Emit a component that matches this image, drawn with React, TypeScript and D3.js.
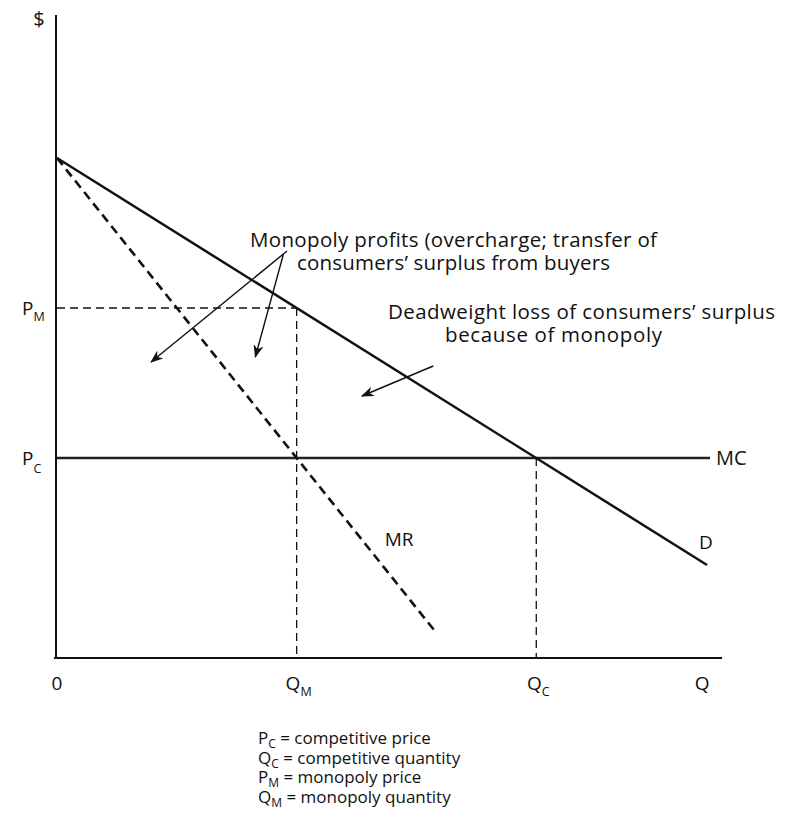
import React from "react";
import * as d3 from "d3";

const W = 787;
const H = 822;

// Economic model values (quantity, price)
const demandPoints = [
  { q: 0, p: 10 },
  { q: 10.85, p: 1.86 },
];
const mrPoints = [
  { q: 0, p: 10 },
  { q: 6.3, p: 0.55 },
];
const mcPoints = [
  { q: 0, p: 4 },
  { q: 10.9, p: 4 },
];
const qMonopoly = 4;
const qCompetitive = 8;
const pMonopoly = 7;
const pCompetitive = 4;
const qAxisMax = 11.1;
const pAxisMax = 12.86;

const xTickLabels = [
  { q: 0, main: "0", sub: "" },
  { q: qMonopoly, main: "Q", sub: "M" },
  { q: qCompetitive, main: "Q", sub: "C" },
  { q: 10.77, main: "Q", sub: "" },
];
const yTickLabels = [
  { p: pMonopoly, main: "P", sub: "M" },
  { p: pCompetitive, main: "P", sub: "C" },
];

const arrows = [
  { from: { q: 3.84, p: 8.14 }, to: { q: 1.57, p: 5.92 } },
  { from: { q: 3.78, p: 8.08 }, to: { q: 3.31, p: 6.02 } },
  { from: { q: 6.28, p: 5.84 }, to: { q: 5.09, p: 5.24 } },
];

const annotationLines = [
  { text: "Monopoly profits (overcharge; transfer of", x0: 250, x1: 657, y: 247 },
  { text: "consumers’ surplus from buyers", x0: 297, x1: 610, y: 270 },
  { text: "Deadweight loss of consumers’ surplus", x0: 388, x1: 775, y: 319 },
  { text: "because of monopoly", x0: 445, x1: 662, y: 342 },
];

const legendLines = [
  { main: "P", sub: "C", text: " = competitive price" },
  { main: "Q", sub: "C", text: " = competitive quantity" },
  { main: "P", sub: "M", text: " = monopoly price" },
  { main: "Q", sub: "M", text: " = monopoly quantity" },
];

const FONT = "'Open Sans', 'Noto Sans', sans-serif";

export default function App() {
  const x = d3.scaleLinear().domain([0, qAxisMax]).range([57, 722]);
  const y = d3.scaleLinear().domain([0, 13]).range([658, 8]);
  const line = d3
    .line<{ q: number; p: number }>()
    .x((d) => x(d.q))
    .y((d) => y(d.p));

  const sub = (
    main: string,
    s: string,
    px: number,
    py: number,
    size: number,
    anchor = "start",
    drop = 0.3
  ) => (
    <text x={px} y={py} fontSize={size} fontFamily={FONT} textAnchor={anchor} fill="#111">
      {main}
      {s ? (
        <tspan fontSize={size * 0.66} dy={size * drop}>
          {s}
        </tspan>
      ) : null}
    </text>
  );

  return (
    <svg
      width={W}
      height={H}
      style={{ position: "absolute", left: 0, top: 0, background: "#fff" }}
    >
      <defs>
        <marker
          id="ah"
          viewBox="0 0 13 10"
          refX="12"
          refY="5"
          markerWidth="13"
          markerHeight="10"
          markerUnits="userSpaceOnUse"
          orient="auto"
        >
          <path d="M0,0 L13,5 L0,10 L4,5 Z" fill="#111" />
        </marker>
      </defs>

      {/* axes */}
      <line x1={x(0) - 1} x2={x(0) - 1} y1={y(pAxisMax)} y2={y(0)} stroke="#111" strokeWidth={2} />
      <line x1={x(0) - 3} x2={x(qAxisMax)} y1={y(0)} y2={y(0)} stroke="#111" strokeWidth={2} />

      {/* guide lines */}
      <line
        x1={x(0)}
        x2={x(qMonopoly)}
        y1={y(pMonopoly)}
        y2={y(pMonopoly)}
        stroke="#111"
        strokeWidth={1.3}
        strokeDasharray="8 5"
      />
      <line
        x1={x(qMonopoly)}
        x2={x(qMonopoly)}
        y1={y(pMonopoly)}
        y2={y(0)}
        stroke="#111"
        strokeWidth={1.3}
        strokeDasharray="8 5"
      />
      <line
        x1={x(qCompetitive)}
        x2={x(qCompetitive)}
        y1={y(pCompetitive)}
        y2={y(0)}
        stroke="#111"
        strokeWidth={1.3}
        strokeDasharray="8 5"
      />

      {/* curves */}
      <path d={line(mcPoints) || ""} stroke="#222" strokeWidth={2.5} fill="none" />
      <path d={line(demandPoints) || ""} stroke="#111" strokeWidth={2.5} fill="none" />
      <path
        d={line(mrPoints) || ""}
        stroke="#111"
        strokeWidth={2.6}
        fill="none"
        strokeDasharray="9 5.5"
      />

      {/* arrows */}
      {arrows.map((a, i) => (
        <line
          key={i}
          x1={x(a.from.q)}
          y1={y(a.from.p)}
          x2={x(a.to.q)}
          y2={y(a.to.p)}
          stroke="#111"
          strokeWidth={1.4}
          markerEnd="url(#ah)"
        />
      ))}

      {/* axis labels */}
      <text x={39} y={26} fontSize={20} fontFamily={FONT} textAnchor="middle" fill="#111">
        $
      </text>
      {yTickLabels.map((t, i) => (
        <g key={i}>{sub(t.main, t.sub, 22, y(t.p) + 7, 19, "start", t.sub === "C" ? 0.42 : 0.3)}</g>
      ))}
      {xTickLabels.map((t, i) => (
        <g key={i}>{sub(t.main, t.sub, x(t.q) + (t.sub ? 2 : 0), 690, 19, "middle", 0.32)}</g>
      ))}

      {/* curve labels */}
      <text x={x(qMonopoly) + 88} y={546} fontSize={19} fontFamily={FONT} fill="#111">
        MR
      </text>
      <text x={x(demandPoints[1].q) - 8} y={549} fontSize={19} fontFamily={FONT} fill="#111">
        D
      </text>
      <text x={x(mcPoints[1].q) + 6} y={y(pCompetitive) + 7} fontSize={20} fontFamily={FONT} fill="#111">
        MC
      </text>

      {/* annotations */}
      {annotationLines.map((a, i) => (
        <text
          key={i}
          x={a.x0}
          y={a.y}
          fontSize={20.5}
          fontFamily={FONT}
          fill="#111"
          textLength={a.x1 - a.x0}
          lengthAdjust="spacing"
        >
          {a.text}
        </text>
      ))}

      {/* legend */}
      {legendLines.map((l, i) => (
        <text key={i} x={258} y={744 + i * 19.5} fontSize={17} fontFamily={FONT} fill="#111">
          {l.main}
          <tspan fontSize={12} dy={4}>
            {l.sub}
          </tspan>
          <tspan dy={-4}>{l.text}</tspan>
        </text>
      ))}
    </svg>
  );
}
